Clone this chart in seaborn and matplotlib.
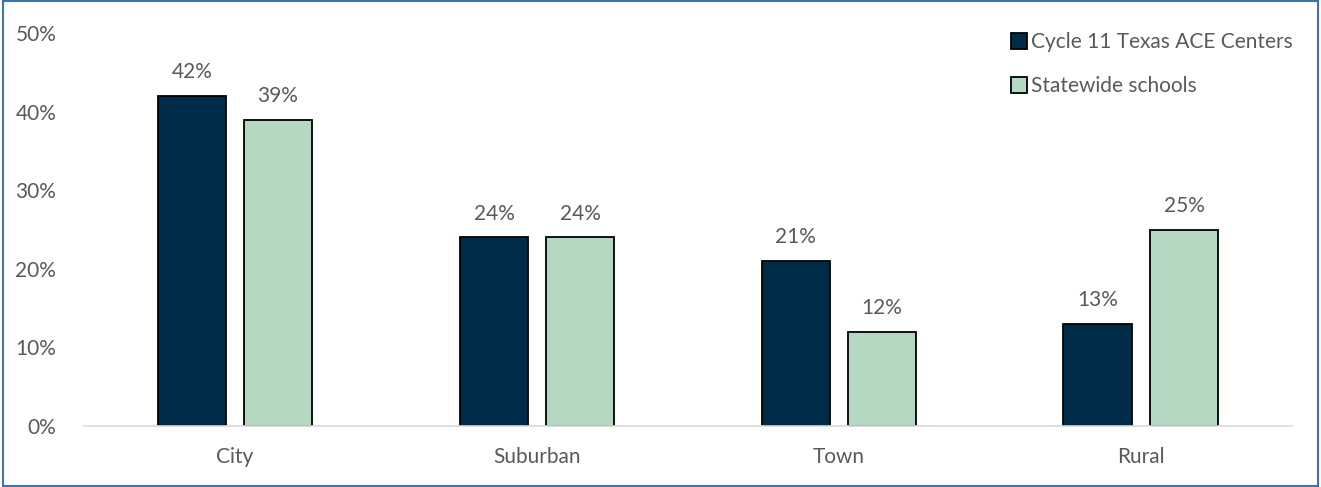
import pandas as pd
import matplotlib
matplotlib.use("Agg")
import matplotlib.pyplot as plt
import seaborn as sns
from matplotlib.patches import Rectangle

categories = ["City", "Suburban", "Town", "Rural"]
ace_centers = [0.42, 0.24, 0.21, 0.13]
statewide = [0.39, 0.24, 0.12, 0.25]
series_names = ["Cycle 11 Texas ACE Centers", "Statewide schools"]
yticks = [0, 0.1, 0.2, 0.3, 0.4, 0.5]

df = pd.DataFrame({
    "Locale": categories * 2,
    "Share": ace_centers + statewide,
    "Group": [series_names[0]] * 4 + [series_names[1]] * 4,
})

sns.set_style("white")
plt.rcParams["font.family"] = ["Lato", "DejaVu Sans"]
gray = "#595959"
fs = 15

fig = plt.figure(figsize=(13.21, 4.87), dpi=100)
ax = fig.add_axes([0.0636, 0.1253, 0.9144, 0.8067])

sns.barplot(data=df, x="Locale", y="Share", hue="Group",
            palette=["#002B49", "#B4D8C1"], saturation=1, width=0.57, gap=0.2,
            edgecolor="black", linewidth=1.3, ax=ax)

for cont in ax.containers:
    ax.bar_label(cont, labels=[f"{v*100:.0f}%" for v in cont.datavalues],
                 padding=10, fontsize=fs, color=gray)

ax.set_ylim(0, 0.5)
ax.set_xlim(-0.5, 3.5)
ax.set_yticks(yticks)
ax.set_yticklabels([f"{t*100:.0f}%" for t in yticks])
ax.tick_params(axis="both", length=0, labelsize=fs, colors=gray)
ax.tick_params(axis="y", pad=20)
ax.tick_params(axis="x", pad=15)
ax.set_xlabel("")
ax.set_ylabel("")
for s in ["top", "right", "left"]:
    ax.spines[s].set_visible(False)
ax.spines["bottom"].set_color("#D9D9D9")
ax.spines["bottom"].set_linewidth(1.2)

leg = ax.legend(loc="upper right", bbox_to_anchor=(1.016, 1.05), frameon=False,
                fontsize=fs, handlelength=0.75, handleheight=0.75,
                handletextpad=0.2, labelspacing=1.15)
for t in leg.get_texts():
    t.set_color(gray)

fig.patches.append(Rectangle((0.002, 0.003), 0.996, 0.994, transform=fig.transFigure,
                             fill=False, edgecolor="#3A75B0", linewidth=1.5))

fig.savefig("out.png", dpi=100)
